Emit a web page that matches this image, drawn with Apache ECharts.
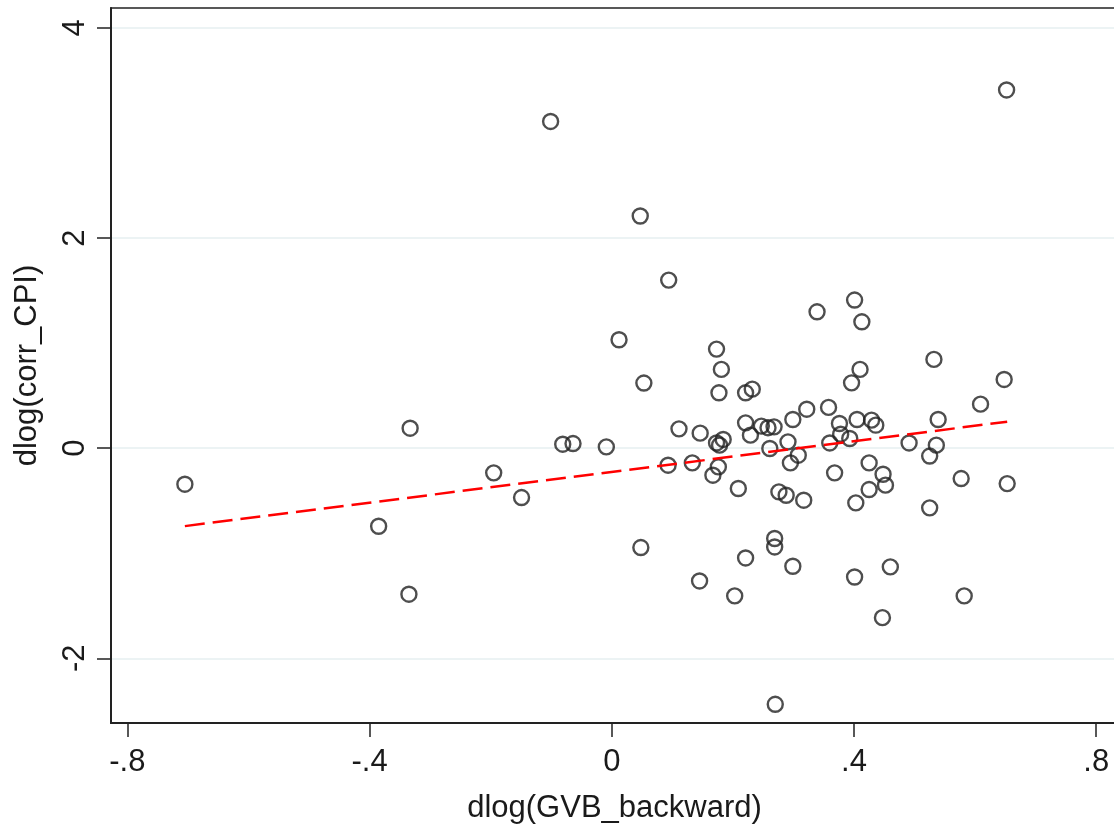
<!DOCTYPE html>
<html>
<head>
<meta charset="utf-8">
<script src="https://cdn.jsdelivr.net/npm/echarts@6/dist/echarts.min.js"></script>
<style>
  html, body { margin: 0; padding: 0; background: #fff; }
  #chart { width: 1114px; height: 829px; }
</style>
</head>
<body>
<div id="chart"></div>
<script>
// x = dlog(GVB_backward), y = dlog(corr_CPI)
const gvbBackward = [
  -0.705, -0.385, -0.333, -0.335, -0.195, -0.149, -0.101, -0.081, -0.064, -0.009,
  0.012, 0.047, 0.053, 0.048, 0.094, 0.093, 0.111, 0.133, 0.146, 0.145,
  0.173, 0.181, 0.177, 0.221, 0.232, 0.221, 0.229, 0.247, 0.258, 0.268,
  0.299, 0.173, 0.184, 0.178, 0.261, 0.291, 0.167, 0.176, 0.209, 0.295,
  0.276, 0.288, 0.317, 0.269, 0.269, 0.221, 0.299, 0.203, 0.308, 0.339,
  0.401, 0.413, 0.532, 0.648, 0.410, 0.396, 0.609, 0.322, 0.358, 0.376,
  0.405, 0.429, 0.436, 0.539, 0.378, 0.393, 0.360, 0.491, 0.536, 0.525,
  0.368, 0.425, 0.448, 0.452, 0.425, 0.403, 0.577, 0.653, 0.525, 0.401,
  0.460, 0.582, 0.447, 0.270, 0.652
]
const corrCPI = [
  -0.343, -0.743, 0.190, -1.390, -0.235, -0.470, 3.110, 0.038, 0.044, 0.012,
  1.032, 2.210, 0.620, -0.946, 1.600, -0.162, 0.184, -0.140, 0.143, -1.264,
  0.943, 0.750, 0.527, 0.527, 0.562, 0.241, 0.124, 0.210, 0.195, 0.203,
  0.273, 0.050, 0.083, 0.029, -0.003, 0.060, -0.257, -0.178, -0.384, -0.140,
  -0.416, -0.448, -0.495, -0.860, -0.940, -1.045, -1.124, -1.406, -0.067, 1.298,
  1.410, 1.203, 0.845, 0.654, 0.750, 0.622, 0.419, 0.371, 0.388, 0.235,
  0.273, 0.267, 0.219, 0.273, 0.133, 0.092, 0.050, 0.050, 0.029, -0.075,
  -0.235, -0.140, -0.248, -0.352, -0.394, -0.521, -0.289, -0.337, -0.568, -1.226,
  -1.130, -1.406, -1.613, -2.438, 3.410
]
// linear fit endpoints
const fitX = [-0.705, 0.653]
const fitY = [-0.742, 0.252]

const xTicks = [-0.8, -0.4, 0, 0.4, 0.8]
const yTicks = [-2, 0, 2, 4]

const points = gvbBackward.map((x, i) => [x, corrCPI[i]])
const fitLine = fitX.map((x, i) => [x, fitY[i]])

const fmtTick = (v) => {
  if (v === 0) return '0'
  const s = String(Math.abs(v)).replace(/^0/, '')
  return (v < 0 ? '-' : '') + s
}

const font = "'Liberation Sans', Arial, sans-serif"
const chart = echarts.init(document.getElementById('chart'), null, { renderer: 'canvas' })

chart.setOption({
  backgroundColor: '#fff',
  animation: false,
  grid: {
    left: 111,
    right: -4,
    top: 8,
    bottom: 106,
    outerBoundsMode: 'none',
    containLabel: false,
    show: true,
    borderColor: '#222',
    borderWidth: 1.5
  },
  xAxis: {
    type: 'value',
    min: -0.827,
    max: 0.836,
    name: 'dlog(GVB_backward)',
    nameLocation: 'middle',
    nameGap: 70,
    nameTextStyle: { fontFamily: font, fontSize: 31, color: '#1a1a1a' },
    axisLine: { show: true, onZero: false, lineStyle: { color: '#222', width: 2 } },
    axisTick: { show: true, customValues: xTicks, length: 14, lineStyle: { color: '#222', width: 1.5 } },
    axisLabel: {
      customValues: xTicks,
      formatter: fmtTick,
      margin: 24,
      fontFamily: font,
      fontSize: 31,
      color: '#1a1a1a'
    },
    splitLine: { show: false }
  },
  yAxis: {
    type: 'value',
    min: -2.616,
    max: 4.19,
    name: 'dlog(corr_CPI)',
    nameLocation: 'middle',
    nameGap: 68,
    nameTextStyle: { fontFamily: font, fontSize: 31, color: '#1a1a1a' },
    axisLine: { show: true, onZero: false, lineStyle: { color: '#222', width: 2 } },
    axisTick: { show: true, customValues: yTicks, length: 14, lineStyle: { color: '#222', width: 1.5 } },
    axisLabel: {
      customValues: yTicks,
      formatter: fmtTick,
      rotate: 90,
      margin: 20,
      fontFamily: font,
      fontSize: 31,
      color: '#1a1a1a'
    },
    splitLine: { show: true, lineStyle: { color: '#e6eff1', width: 1.5 } }
  },
  series: [
    {
      type: 'scatter',
      data: points,
      symbol: 'circle',
      symbolSize: 15,
      itemStyle: { color: 'transparent', borderColor: '#222', borderWidth: 2.4 },
      z: 3
    },
    {
      type: 'line',
      data: fitLine,
      showSymbol: false,
      lineStyle: { color: '#ff0000', width: 2.5, type: [20, 8] },
      z: 4
    }
  ]
})
</script>
</body>
</html>
